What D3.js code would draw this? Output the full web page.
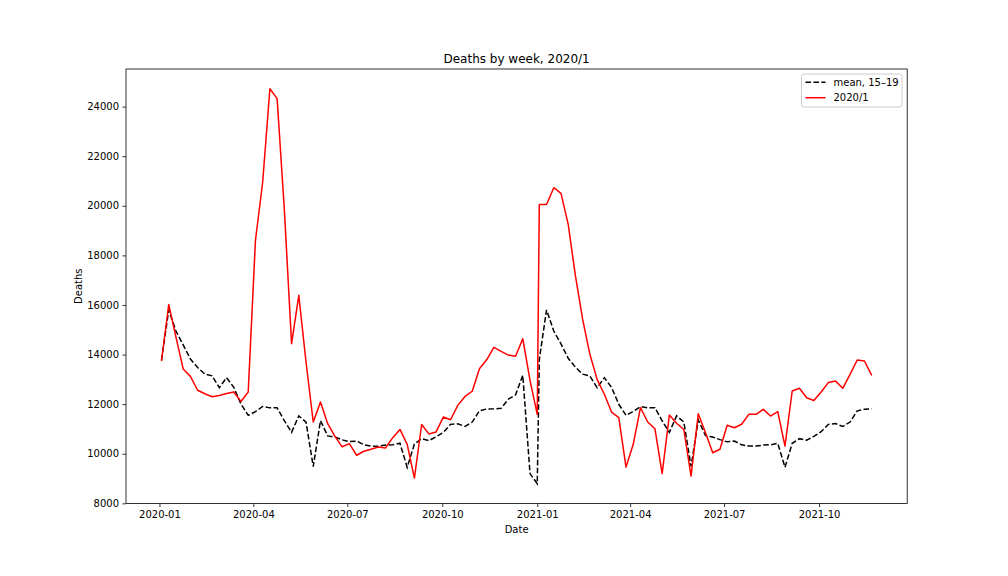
<!DOCTYPE html>
<html>
<head>
<meta charset="utf-8">
<script src="https://cdn.jsdelivr.net/npm/d3@7"></script>
<style>
    body { margin: 0; background: #fff; }
    text { font-family: "DejaVu Sans", sans-serif; fill: #000; }
</style>
</head>
<body>
<script>
// weekly registered deaths; 2020 runs weeks 1-53, 2021 weeks 1-47
const firstWeek2020 = "2020-01-03";
const firstWeek2021 = "2021-01-03";

const deaths2020 = [
    13740, 16020, 14700, 13420, 13120, 12560, 12420, 12300, 12350, 12430,
    12490, 12110, 12490, 18600, 20950, 24720, 24320, 19850, 14440, 16390,
    13700, 11280, 12090, 11210, 10700, 10280, 10410, 9940, 10100, 10180,
    10270, 10230, 10650, 10980, 10380, 9020, 11180, 10800, 10880, 11480,
    11370, 11950, 12310, 12520, 13430, 13790, 14290, 14130, 13980, 13930,
    14640, 12960, 11590
];
const deaths2021 = [
    20050, 20050, 20730, 20500, 19250, 17170, 15420, 14010, 13000, 12400,
    11680, 11460, 9460, 10380, 11860, 11280, 11010, 9200, 11560, 11230,
    10980, 9100, 11610, 10850, 10040, 10180, 11150, 11050, 11190, 11590,
    11590, 11790, 11520, 11700, 10310, 12530, 12640, 12260, 12150, 12490,
    12870, 12930, 12640, 13200, 13780, 13740, 13160
];

// mean of 2015-2019 for the same week numbers
const mean2020 = [
    13780, 15800, 14950, 14390, 13820, 13480, 13215, 13140, 12665, 13068,
    12680, 12005, 11548, 11700, 11905, 11850, 11850, 11335, 10865, 11528,
    11278, 9484, 11330, 10720, 10673, 10560, 10490, 10512, 10365, 10305,
    10305, 10350, 10365, 10425, 9450, 10390, 10608, 10530, 10680, 10860,
    11185, 11205, 11105, 11278, 11736, 11804, 11810, 11830, 12200, 12375,
    13161, 9200, 8790
];
const mean2021 = [
    13800, 15800, 14950, 14430, 13850, 13490, 13210, 13135, 12665, 13068,
    12675, 11995, 11548, 11710, 11900, 11855, 11855, 11330, 10860, 11530,
    11278, 9490, 11360, 10730, 10673, 10570, 10480, 10512, 10360, 10308,
    10308, 10352, 10360, 10420, 9455, 10420, 10608, 10545, 10700, 10890,
    11185, 11215, 11098, 11278, 11730, 11797, 11815
];

const yTicks = [8000, 10000, 12000, 14000, 16000, 18000, 20000, 22000, 24000];
const xTicks = ["2020-01", "2020-04", "2020-07", "2020-10", "2021-01", "2021-04", "2021-07", "2021-10"];
const seriesNames = ["mean, 15\u201319", "2020/1"];

const box = { left: 126, right: 907.2, top: 69, bottom: 503.5 };

const parseDay = d3.utcParse("%Y-%m-%d");
const parseMonth = d3.utcParse("%Y-%m");

//week dates
const weeks = (start, n) => d3.range(n).map((i) => d3.utcDay.offset(parseDay(start), 7 * i));
const dates = weeks(firstWeek2020, deaths2020.length).concat(weeks(firstWeek2021, deaths2021.length));

const actual = dates.map((d, i) => ({ date: d, value: deaths2020.concat(deaths2021)[i] }));
const mean = dates.map((d, i) => ({ date: d, value: mean2020.concat(mean2021)[i] }));

//scales with 5% margins like matplotlib
const xExt = d3.extent(dates);
const xPad = (xExt[1] - xExt[0]) * 0.05;
const x = d3.scaleUtc()
    .domain([new Date(+xExt[0] - xPad), new Date(+xExt[1] + xPad)])
    .range([box.left, box.right]);

const allVals = actual.concat(mean).map((d) => d.value);
const yExt = d3.extent(allVals);
const yPad = (yExt[1] - yExt[0]) * 0.05;
const y = d3.scaleLinear()
    .domain([yExt[0] - yPad, yExt[1] + yPad])
    .range([box.bottom, box.top]);

const svg = d3.select("body").append("svg").attr("width", 1008).attr("height", 576);

//lines
const line = d3.line().x((d) => x(d.date)).y((d) => y(d.value));

svg.append("path")
    .datum(mean)
    .attr("fill", "none")
    .attr("stroke", "#000")
    .attr("stroke-width", 1.5)
    .attr("stroke-dasharray", "5.55,2.4")
    .attr("d", line);

svg.append("path")
    .datum(actual)
    .attr("fill", "none")
    .attr("stroke", "#ff0000")
    .attr("stroke-width", 1.5)
    .attr("stroke-linejoin", "round")
    .attr("d", line);

//axes
const xAxis = svg.append("g")
    .attr("transform", "translate(0," + box.bottom + ")")
    .call(d3.axisBottom(x)
        .tickValues(xTicks.map(parseMonth))
        .tickFormat(d3.utcFormat("%Y-%m"))
        .tickSizeInner(3.5).tickSizeOuter(0).tickPadding(3.5));

const yAxis = svg.append("g")
    .attr("transform", "translate(" + box.left + ",0)")
    .call(d3.axisLeft(y)
        .tickValues(yTicks)
        .tickFormat(d3.format("d"))
        .tickSizeInner(3.5).tickSizeOuter(0).tickPadding(3.5));

[xAxis, yAxis].forEach((g) => {
    g.select(".domain").remove();
    g.selectAll(".tick line").attr("stroke", "#000").attr("stroke-width", 0.8);
    g.selectAll(".tick text").attr("font-size", 10).attr("font-family", "DejaVu Sans");
});

//frame
svg.append("rect")
    .attr("x", box.left).attr("y", box.top)
    .attr("width", box.right - box.left).attr("height", box.bottom - box.top)
    .attr("fill", "none").attr("stroke", "#000").attr("stroke-width", 0.8);

//titles
svg.append("text")
    .attr("x", (box.left + box.right) / 2).attr("y", 63)
    .attr("text-anchor", "middle").attr("font-size", 12)
    .text("Deaths by week, 2020/1");

svg.append("text")
    .attr("x", (box.left + box.right) / 2).attr("y", 533)
    .attr("text-anchor", "middle").attr("font-size", 10)
    .text("Date");

svg.append("text")
    .attr("transform", "translate(82," + (box.top + box.bottom) / 2 + ") rotate(-90)")
    .attr("text-anchor", "middle").attr("font-size", 10)
    .text("Deaths");

//legend
const legend = svg.append("g").attr("transform", "translate(801.5,74)");
legend.append("rect")
    .attr("width", 100.5).attr("height", 33)
    .attr("rx", 2.5)
    .attr("fill", "#fff").attr("fill-opacity", 0.8)
    .attr("stroke", "#cccccc").attr("stroke-width", 1);

const legendRows = [
    { name: seriesNames[0], color: "#000", dash: "5.55,2.4", y: 8.3 },
    { name: seriesNames[1], color: "#ff0000", dash: null, y: 23.7 }
];
legendRows.forEach((r) => {
    legend.append("line")
        .attr("x1", 4).attr("x2", 24).attr("y1", r.y).attr("y2", r.y)
        .attr("stroke", r.color).attr("stroke-width", 1.5)
        .attr("stroke-dasharray", r.dash);
    legend.append("text")
        .attr("x", 32).attr("y", r.y + 3.6)
        .attr("font-size", 10)
        .text(r.name);
});
</script>
</body>
</html>
